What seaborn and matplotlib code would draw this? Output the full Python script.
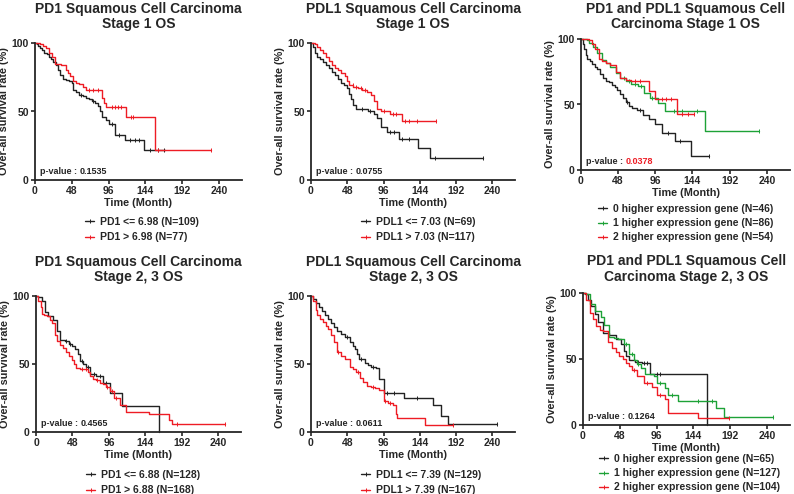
import matplotlib
matplotlib.use("Agg")
import matplotlib.pyplot as plt
import seaborn as sns
import numpy as np
from matplotlib.lines import Line2D

# ---- data (event times in months, survival in %) ----
# Stage 1, PD1
pd1_s1_lo_t = [2, 4, 6, 9, 12, 15, 18, 21, 24, 27, 30, 33, 36, 40, 44, 48, 50, 54, 58, 62, 66, 70, 74, 78, 82, 85, 88, 92, 96, 104, 118, 142]
pd1_s1_lo_s = [99, 98, 96, 95, 93, 92, 90, 88, 86, 84, 80, 77, 74, 73, 72, 71, 66, 64, 62, 61, 60, 59, 58, 56, 54, 50, 46, 44, 41, 33, 29, 22]
pd1_s1_lo_cens = [60, 75, 100, 110, 124, 130, 136, 150, 160, 168]
pd1_s1_hi_t = [6, 10, 14, 18, 22, 26, 34, 40, 43, 46, 50, 54, 58, 62, 66, 87, 90, 93, 119, 157]
pd1_s1_hi_s = [99, 98, 96, 93, 90, 85, 84, 80, 78, 76, 72, 71, 70, 68, 66, 60, 56, 53, 46, 22]
pd1_s1_hi_cens = [70, 76, 82, 100, 104, 108, 112, 125, 128, 160, 229]

# Stage 1, PDL1
pdl1_s1_lo_t = [2, 5, 8, 12, 16, 20, 24, 28, 32, 36, 40, 44, 48, 50, 53, 56, 60, 75, 84, 88, 92, 101, 116, 142, 158]
pdl1_s1_lo_s = [97, 93, 90, 88, 86, 84, 82, 79, 77, 74, 71, 69, 67, 63, 59, 55, 52, 50, 48, 45, 39, 35, 30, 23, 16]
pdl1_s1_lo_cens = [68, 78, 104, 110, 120, 130, 164, 227]
pdl1_s1_hi_t = [5, 8, 12, 16, 20, 24, 28, 32, 36, 40, 45, 48, 50, 56, 62, 68, 74, 80, 84, 88, 92, 104, 120]
pdl1_s1_hi_s = [99, 97, 95, 93, 90, 87, 84, 82, 80, 78, 76, 72, 69, 68, 67, 66, 64, 62, 58, 52, 50, 48, 43]
pdl1_s1_hi_cens = [55, 60, 66, 72, 96, 108, 112, 125, 130, 140, 166]

# Stage 1, combined
both_s1_g0_t = [2, 4, 6, 8, 11, 14, 18, 21, 25, 28, 32, 36, 40, 44, 47, 50, 54, 58, 62, 66, 72, 80, 88, 96, 104, 121, 142]
both_s1_g0_s = [96, 92, 88, 85, 83, 81, 79, 77, 73, 70, 68, 67, 65, 63, 61, 58, 55, 52, 49, 47, 46, 42, 39, 35, 28, 22, 11]
both_s1_g0_cens = [60, 76, 112, 128, 165]
both_s1_g1_t = [8, 10, 16, 21, 27, 32, 38, 45, 51, 58, 64, 73, 82, 89, 100, 108, 160]
both_s1_g1_s = [99, 97, 94, 89, 84, 82, 79, 74, 70, 68, 66, 64, 59, 55, 51, 45, 30]
both_s1_g1_cens = [56, 62, 70, 78, 92, 120, 130, 150, 230]
both_s1_g2_t = [10, 14, 18, 23, 27, 32, 38, 45, 51, 58, 64, 88, 95, 124]
both_s1_g2_s = [99, 96, 92, 85, 83, 82, 80, 75, 70, 69, 68, 60, 54, 43]
both_s1_g2_cens = [70, 76, 104, 110, 116, 130, 138, 146]

# Stage 2, 3, PD1
pd1_s23_lo_t = [3, 8, 12, 16, 23, 27, 32, 38, 43, 47, 51, 55, 58, 62, 66, 71, 79, 88, 97, 113, 162]
pd1_s23_lo_s = [99, 96, 88, 85, 82, 74, 68, 67, 65, 63, 61, 57, 52, 50, 48, 43, 41, 36, 29, 19, 0]
pd1_s23_lo_cens = [40, 45, 60, 68, 76, 84, 92]
pd1_s23_hi_t = [3, 6, 8, 11, 14, 18, 21, 25, 28, 32, 36, 40, 44, 47, 50, 53, 58, 64, 68, 71, 75, 79, 84, 88, 92, 97, 103, 110, 118, 149, 175, 179]
pd1_s23_hi_s = [96, 92, 87, 86, 85, 82, 80, 71, 67, 64, 62, 59, 56, 53, 50, 47, 46, 46, 44, 41, 39, 38, 36, 35, 33, 30, 25, 20, 15, 13, 9, 6]
pd1_s23_hi_cens = [60, 66, 80, 94, 100, 106, 186, 249]

# Stage 2, 3, PDL1
pdl1_s23_lo_t = [3, 6, 10, 14, 19, 23, 27, 31, 34, 40, 45, 51, 55, 58, 61, 64, 71, 75, 79, 86, 90, 97, 123, 162, 172, 181]
pdl1_s23_lo_s = [98, 95, 92, 89, 86, 83, 80, 77, 74, 72, 70, 66, 63, 61, 57, 54, 51, 49, 48, 47, 39, 29, 25, 20, 12, 6]
pdl1_s23_lo_cens = [48, 66, 82, 100, 110, 140, 246]
pdl1_s23_hi_t = [3, 6, 8, 12, 16, 20, 23, 27, 30, 34, 40, 45, 51, 56, 60, 65, 69, 74, 79, 85, 90, 96, 102, 108, 112, 114, 151]
pdl1_s23_hi_s = [96, 90, 86, 83, 81, 78, 76, 71, 66, 59, 56, 54, 48, 46, 44, 40, 37, 34, 33, 32, 31, 23, 21, 20, 13, 10, 5]
pdl1_s23_hi_cens = [36, 62, 82, 98, 104, 188]

# Stage 2, 3, combined
both_s23_g0_t = [2, 6, 11, 15, 19, 26, 34, 43, 49, 53, 56, 60, 68, 77, 88, 162]
both_s23_g0_s = [99, 95, 90, 84, 78, 70, 68, 65, 61, 56, 52, 49, 48, 47, 39, 0]
both_s23_g0_cens = [72, 80, 84, 96, 100]
both_s23_g1_t = [4, 9, 15, 24, 28, 34, 40, 45, 53, 60, 66, 70, 75, 81, 92, 96, 107, 111, 124, 173, 184]
both_s23_g1_s = [99, 92, 86, 82, 76, 67, 66, 65, 61, 54, 49, 46, 43, 39, 37, 32, 28, 23, 18, 13, 6]
both_s23_g1_cens = [56, 64, 72, 100, 116, 150, 168, 248]
both_s23_g2_t = [4, 9, 13, 17, 22, 26, 32, 38, 43, 47, 52, 56, 60, 64, 71, 79, 90, 96, 107, 111, 150]
both_s23_g2_s = [95, 85, 80, 75, 72, 71, 63, 58, 55, 52, 50, 47, 45, 42, 37, 32, 29, 23, 20, 9, 5]
both_s23_g2_cens = [66, 84, 100, 190]

titles = [
    "PD1 Squamous Cell Carcinoma\nStage 1 OS",
    "PDL1 Squamous Cell Carcinoma\nStage 1 OS",
    "PD1 and PDL1 Squamous Cell\nCarcinoma Stage 1 OS",
    "PD1 Squamous Cell Carcinoma\nStage 2, 3 OS",
    "PDL1 Squamous Cell Carcinoma\nStage 2, 3 OS",
    "PD1 and PDL1 Squamous Cell\nCarcinoma Stage 2, 3 OS",
]
p_values = ["0.1535", "0.0755", "0.0378", "0.4565", "0.0611", "0.1264"]
legend_labels = [
    ["PD1 <= 6.98 (N=109)", "PD1 > 6.98 (N=77)"],
    ["PDL1 <= 7.03 (N=69)", "PDL1 > 7.03 (N=117)"],
    ["0 higher expression gene (N=46)", "1 higher expression gene (N=86)", "2 higher expression gene (N=54)"],
    ["PD1 <= 6.88 (N=128)", "PD1 > 6.88 (N=168)"],
    ["PDL1 <= 7.39 (N=129)", "PDL1 > 7.39 (N=167)"],
    ["0 higher expression gene (N=65)", "1 higher expression gene (N=127)", "2 higher expression gene (N=104)"],
]
end_times = [
    [170, 229], [227, 166], [165, 230, 146],
    [162, 249], [246, 188], [162, 248, 190],
]
series = [
    [(pd1_s1_lo_t, pd1_s1_lo_s, pd1_s1_lo_cens), (pd1_s1_hi_t, pd1_s1_hi_s, pd1_s1_hi_cens)],
    [(pdl1_s1_lo_t, pdl1_s1_lo_s, pdl1_s1_lo_cens), (pdl1_s1_hi_t, pdl1_s1_hi_s, pdl1_s1_hi_cens)],
    [(both_s1_g0_t, both_s1_g0_s, both_s1_g0_cens), (both_s1_g1_t, both_s1_g1_s, both_s1_g1_cens),
     (both_s1_g2_t, both_s1_g2_s, both_s1_g2_cens)],
    [(pd1_s23_lo_t, pd1_s23_lo_s, pd1_s23_lo_cens), (pd1_s23_hi_t, pd1_s23_hi_s, pd1_s23_hi_cens)],
    [(pdl1_s23_lo_t, pdl1_s23_lo_s, pdl1_s23_lo_cens), (pdl1_s23_hi_t, pdl1_s23_hi_s, pdl1_s23_hi_cens)],
    [(both_s23_g0_t, both_s23_g0_s, both_s23_g0_cens), (both_s23_g1_t, both_s23_g1_s, both_s23_g1_cens),
     (both_s23_g2_t, both_s23_g2_s, both_s23_g2_cens)],
]

BLACK = "#222222"
RED = "#ee1c24"
GREEN = "#1da237"
two_colors = [BLACK, RED]
three_colors = [BLACK, GREEN, RED]

# axes boxes in pixels: left, right, top, bottom
boxes = [
    (35, 242, 43, 180), (311, 515, 43, 180), (581, 790, 39, 170),
    (36, 241, 296, 432), (311, 515, 296, 432), (583, 790, 293, 425),
]
title_pads = [11, 11, 8, 11, 11, 9]
# legend top-left offset from the axes' lower-left corner, pixels
legend_offsets = [(50, 37), (50, 37), (17, 34), (50, 38), (50, 38), (16, 29)]

sns.set_style("ticks")
plt.rcParams["font.family"] = ["Liberation Sans", "DejaVu Sans"]
plt.rcParams["font.weight"] = "bold"
plt.rcParams["axes.labelweight"] = "bold"
plt.rcParams["axes.titleweight"] = "bold"

W, H = 794, 494
fig = plt.figure(figsize=(W / 100, H / 100), dpi=100)


def surv_at(times, surv, t):
    idx = np.searchsorted(times, t, side="right") - 1
    return 100 if idx < 0 else surv[idx]


for i in range(6):
    l, r, t, b = boxes[i]
    ax = fig.add_axes([l / W, 1 - b / H, (r - l) / W, (b - t) / H])
    colors = three_colors if len(series[i]) == 3 else two_colors

    for (times, surv, cens), end, col in zip(series[i], end_times[i], colors):
        xs = [0] + list(times) + [end]
        ys = [100] + list(surv) + [surv[-1]]
        sns.lineplot(x=xs, y=ys, drawstyle="steps-post", estimator=None, sort=False,
                     color=col, lw=1.0, ax=ax, clip_on=False)
        cy = [surv_at(times, surv, c) for c in cens]
        ax.plot(cens, cy, ls="none", marker="|", ms=3, mew=0.7, color=col, clip_on=False)

    ax.set_xlim(0, 270)
    ax.set_ylim(0, 100)
    ax.set_xticks([0, 48, 96, 144, 192, 240])
    ax.set_yticks([0, 50, 100])
    ax.tick_params(labelsize=7.5, width=1.2, length=3, pad=1.5)
    for lab in ax.get_xticklabels() + ax.get_yticklabels():
        lab.set_fontweight("bold")
    for sp in ["left", "bottom"]:
        ax.spines[sp].set_linewidth(1.3)
    sns.despine(ax=ax)

    ax.set_xlabel("Time (Month)", fontsize=7.8, labelpad=1)
    ax.set_ylabel("Over-all survival rate (%)", fontsize=7.8, labelpad=2)
    ax.set_title(titles[i], fontsize=10, fontweight="bold", pad=title_pads[i], linespacing=1.1)

    pt = ax.text(0.025, 0.03, "p-value : ", transform=ax.transAxes, fontsize=6.5,
                 fontweight="bold", ha="left", va="bottom")
    ax.annotate(p_values[i], xy=(1, 0), xycoords=pt, fontsize=6.5, fontweight="bold",
                va="bottom", color=RED if i == 2 else BLACK)

    dx, dy = legend_offsets[i]
    handles = [Line2D([0], [0], color=c, lw=1.0, marker="|", ms=3, mew=0.7) for c in colors]
    ax.legend(handles, legend_labels[i], loc="upper left",
              bbox_to_anchor=(dx / (r - l), -dy / (b - t)),
              frameon=False, fontsize=7.5, handlelength=0.9, handletextpad=0.5,
              labelspacing=0.5 if len(colors) == 2 else 0.4, borderaxespad=0, borderpad=0)

fig.savefig("out.png", dpi=100)
